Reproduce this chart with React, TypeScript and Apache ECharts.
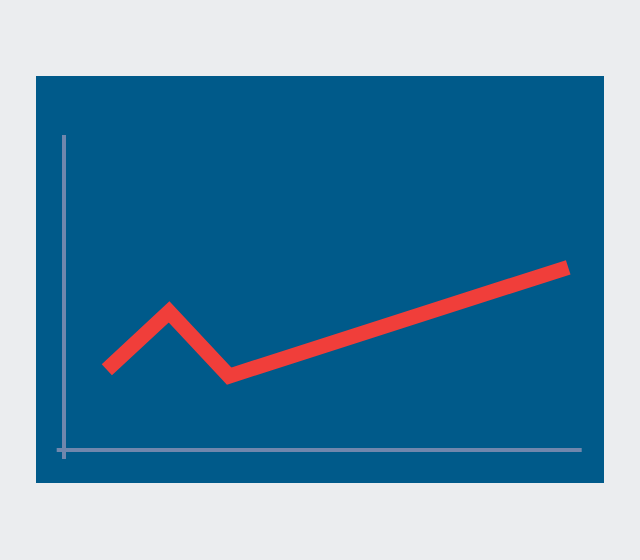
import React, { useEffect, useRef } from "react";
import * as echarts from "echarts";

const xValues = [8.4, 20.4, 32.0, 97.4];
const yValues = [25.3, 43.7, 23.3, 57.9];

export default function App() {
  const ref = useRef<HTMLDivElement>(null);
  useEffect(() => {
    if (!ref.current) return;
    const chart = echarts.init(ref.current, undefined, { renderer: "svg" });
    const axisCommon = {
      type: "value" as const,
      axisLine: { show: true, onZero: true, lineStyle: { color: "#7087ad", width: 4, cap: "butt" } },
      axisTick: { show: false },
      axisLabel: { show: false },
      splitLine: { show: false },
    };
    chart.setOption({
      animation: false,
      backgroundColor: "#ebedef",
      graphic: [
        {
          type: "rect",
          z: -100,
          shape: { x: 36, y: 76, width: 568, height: 407 },
          style: { fill: "#005a8a" },
          silent: true,
        },
      ],
      grid: { left: 56.7, top: 135, width: 525, height: 324 },
      xAxis: { ...axisCommon, min: -1.27, max: 100 },
      yAxis: { ...axisCommon, min: -3.09, max: 100 },
      series: [
        {
          type: "line",
          data: xValues.map((x, i) => [x, yValues[i]]),
          symbol: "none",
          showSymbol: false,
          silent: true,
          z: 5,
          lineStyle: { color: "#f03e3a", width: 15, cap: "butt", join: "miter" },
        },
      ],
    });
    return () => chart.dispose();
  }, []);
  return <div ref={ref} style={{ position: "absolute", left: 0, top: 0, width: 640, height: 560 }} />;
}
